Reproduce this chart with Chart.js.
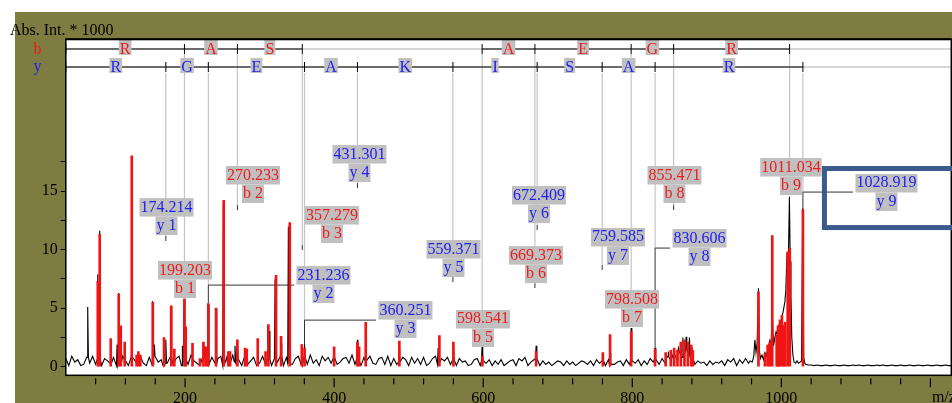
<!DOCTYPE html>
<html>
<head>
<meta charset="utf-8">
<script src="https://cdn.jsdelivr.net/npm/chart.js@4.4.1/dist/chart.umd.min.js"></script>
<style>
html,body{margin:0;padding:0;background:#ffffff;overflow:hidden;}
canvas{display:block;}
</style>
</head>
<body>
<canvas id="chart" width="952" height="403"></canvas>
<script>
// ---------------- data ----------------
const xTitle = 'm/z';
const yTitle = 'Abs. Int. * 1000';
const xMin = 40, xMax = 1228;
const yMin = -0.73, yMax = 27.95;

// profile (black) baseline noise, sampled every 4 m/z
const noiseStart = 40, noiseStep = 4;
const noiseLow = [
0.7,0.1,0.9,0.4,0.6,0.1,0.2,0.8,0.3,0.9,
0.2,0.6,0.1,0.7,0.5,0.3,0.8,0.1,0.2,0.9,
0.5,0.1,0.8,0.6,0.2,0.9,0.3,0.1,0.8,0.2,
0.9,0.4,0.6,0.1,0.3,0.8,0.2,0.7,0.9,0.1,
0.8,0.2,1.0,0.5,0.3,0.1,0.9,0.6,0.2,0.8,
0.3,0.7,0.9,0.1,0.8,0.2,1.0,0.4,0.7,0.1,
0.9,0.2,0.5,0.8,0.1,0.3,0.9,0.2,0.6,0.1,
0.7,0.4,0.9,0.1,0.8,0.3,0.2,0.7,0.9,0.2,
0.8,0.2,1.0,0.3,0.6,0.1,0.9,0.5,0.8,0.3,
0.9,0.2,0.4,0.7,0.8,0.3,1.0,0.2,0.7,0.1,
0.8,0.5,0.9,0.3,0.2,0.7,0.8,0.2,0.9,0.1,
0.7,0.2,0.4,0.8,0.6,0.1,0.8,0.3,0.7,0.2,
0.8,0.1,0.3,0.7,0.9,0.2,0.7,0.5,0.8,0.2,
0.6,0.1,0.7,0.4,0.5,0.1,0.2,0.6,0.7,0.1,
0.5,0.3,0.6,0.1,0.5,0.2,0.6,0.1,0.3,0.5,
0.6,0.1,0.7,0.5,0.8,0.1,0.4,0.6,0.7,0.1,
0.5,0.2,0.4,0.1,0.3,0.5,0.4,0.1,0.5,0.2,
0.4,0.1,0.3,0.5,0.4,0.2,0.5,0.1,0.6,0.3,
0.5,0.1,0.6,0.2,0.2,0.4,0.5,0.1,0.6,0.2,
0.5,0.3,0.6,0.1,0.5,0.2,0.7,0.4,0.6,0.2,
0.7,0.3,0.9,0.5,1.1,0.6,1.3,0.8,1.4,0.9,
0.8,0.2,0.5,0.3,0.4,0.1,0.5,0.2,0.4,0.3,
0.5,0.1,0.6,0.4,0.7,0.1,0.6,0.3,0.7,0.3
];
// profile around the precursor cluster [m/z, intensity]
const clusterProfile = [
[958,0.5],[961,0.4],[963,0.9],[964.5,2.3],[966,1.2],[967.5,2.0],[969.3,6.7],[970.5,1.4],
[972,0.7],[974,1.0],[976,0.6],[978,1.2],[980,0.9],[982,1.5],[984.5,2.2],[986,1.6],
[987.8,4.5],[989.5,1.8],[991,2.4],[993,3.0],[995,2.7],[997,3.6],[999,3.4],[1001,4.3],
[1003,4.9],[1004.8,5.6],[1006,6.5],[1007.6,9.7],[1009,7.5],[1010.8,14.5],[1011.9,9.0],
[1012.9,6.0],[1014,2.5],[1015.5,1.0],[1017,0.4],[1019,0.3],[1021,0.5],[1023,0.3],
[1025,0.4],[1027,0.5],[1028.7,13.5],[1030,0.8],[1031.5,0.3],[1033,0.2],[1036,0.15]
];
const noiseHighStart = 1040;
const noiseHigh = [
0.15,0.1,0.15,0.1,0.1,0.15,0.1,0.1,0.15,0.1,
0.1,0.15,0.1,0.1,0.15,0.1,0.15,0.1,0.1,0.15,
0.1,0.1,0.15,0.1,0.15,0.1,0.1,0.15,0.1,0.1,
0.15,0.1,0.1,0.15,0.1,0.1,0.15,0.1,0.1,0.15,
0.1,0.1,0.15,0.1,0.1,0.15,0.1,0.1
];
// profile peaks (black)
const profilePeakMz  = [69.4,82.9,85.5,100.3,108.8,111.0,113.7,128.5,137.0,156.6,158.8,171.4,174.2,180.8,196.0,198.7,225.0,231.2,241.6,251.4,258.0,267.0,270.2,311.0,313.0,320.8,328.8,338.6,356.6,360.3,431.3,442.4,487.5,539.5,560.0,598.5,671.0,760.5,770.2,798.5,830.6,848.0,856.0,862.0,867.8,872.2,876.7,880.0];
const profilePeakInt = [5.1, 7.9, 11.6,2.3,  1.9,  6.3,  3.4,  17.9, 1.1,  5.6,  1.9,  2.4,  2.3,  5.1,  1.8,  5.7,  2.1,  5.3,  4.9,  13.9, 1.2,  1.8,  2.2,  3.5,  3.05, 7.5,  2.0,  11.95,1.9,  1.9,  2.3,  3.0,  1.4,  1.6,  2.0,  1.7,  1.8,  0.9,  1.2,  3.3,  1.6,  1.3,  1.5,  1.6,  2.5,  2.55, 2.5,  1.7];

// centroided peaks (red sticks)
const stickMz  = [82.9,85.5,100.3,111.0,113.7,119.0,128.5,135.0,137.4,140.0,156.7,171.8,181.6,185.6,199.2,200.9,210.0,220.0,224.6,227.8,231.2,241.6,251.9,258.1,260.4,270.2,280.5,282.8,297.5,308.0,311.8,322.1,328.8,340.5,356.6,360.3,400.0,431.2,433.5,442.4,487.5,541.2,560.0,599.0,671.0,760.5,770.2,798.5,830.6,844.8,851.7,856.2,860.6,865.1,870.0,874.5,879.0,881.2,969.3,978.0,981.6,984.7,987.8,993.7,995.5,997.0,998.2,1000.8,1003.0,1005.2,1008.5,1011.3,1028.9];
const stickInt = [7.3, 11.3,2.4,  6.2,  3.5,  2.1,  18.0, 1.0,  1.3,  1.0,  5.5,  2.5,  5.2,  1.5,  5.8,  3.4,  2.0,  0.7,  2.1,  1.7,  5.4,  5.0,  14.2, 1.3,  1.3,  2.3,  1.6,  1.5,  2.4,  1.3,  3.6,  7.8,  2.6,  12.3, 1.9,  1.6,  1.7,  2.1,  1.7,  3.8,  2.2,  2.65, 2.1,  0.9,  1.3,  1.2,  2.75, 3.0,  1.5,  1.2,  1.4,  1.6,  1.4,  2.1,  2.3,  2.1,  1.85, 1.4,  6.4,  1.1,  1.85, 2.1,  11.2, 2.7,  3.5,  3.1,  4.0,  4.4,   3.55,  3.8,   9.8,   10.1,  13.4];

// fragment ladders
const bIonMz = [199.203, 270.233, 357.279, 598.541, 669.373, 798.508, 855.471, 1011.034];
const bResidues = ['R','A','S',null,'A','E','G','R'];
const yIonMz = [174.214, 231.236, 360.251, 431.301, 559.371, 672.409, 759.585, 830.606, 1028.919];
const yResidues = ['R','G','E','A','K','I','S','A','R'];

// peak labels: [ion, m/z text, label centre m/z, label intensity, line end intensity, stub]
const fragLabels = [
 ['y 1','174.214', 175.1, 12.09, 11.16, true],
 ['b 1','199.203', 199.9, 6.72, 6.03, false],
 ['b 2','270.233', 291.1, 14.83, 13.80, true],
 ['b 3','357.279', 397.1, 11.41, 10.39, true],
 ['y 4','431.301', 434.0, 16.62, 15.68, true],
 ['y 5','559.371', 560.1, 8.51, 7.66, true],
 ['b 5','598.541', 599.7, 2.54, 1.77, false],
 ['y 6','672.409', 674.8, 13.12, 12.10, true],
 ['b 6','669.373', 670.8, 7.99, 7.14, true],
 ['y 7','759.585', 780.8, 9.54, 8.68, true],
 ['b 7','798.508', 799.6, 4.24, 3.47, false],
 ['b 8','855.471', 856.6, 14.83, 13.80, true],
 ['b 9','1011.034', 1012.9, 15.51, 14.83, false]
];
// labels with leader lines: [ion, m/z text, label centre m/z, label intensity, corner intensity, leader end m/z, peak intensity]
const leaderLabels = [
 ['y 2','231.236', 385.7, 6.29, 6.97, 346.1, 5.4],
 ['y 3','360.251', 495.7, 3.30, 3.98, 456.2, 1.7],
 ['y 8','830.606', 890.2, 9.45, 10.13, 850.6, 1.5],
 ['y 9','1028.919', 1141.0, 14.15, 14.91, 1096.1, 13.4]
];
// highlight frame (data units): left m/z, top and bottom intensity
const highlightBox = {mz: 1057.8, top: 16.92, bottom: 11.88};

// ---------------- styles ----------------
const FONT = '16px "Liberation Serif", "Times New Roman", serif';
const RED = '#f01a1a', BLUE = '#2020ee', BOXGRAY = '#c0c0c0', OLIVE = '#7f7c41';
const STICK = '#f01414';
const B_ROW = 49, Y_ROW = 67;

// ---------------- build datasets ----------------
const profile = [];
noiseLow.forEach((v, i) => profile.push({x: noiseStart + i * noiseStep, y: v}));
clusterProfile.forEach(p => profile.push({x: p[0], y: p[1]}));
noiseHigh.forEach((v, i) => profile.push({x: noiseHighStart + i * noiseStep, y: v}));
profilePeakMz.forEach((m, i) => {
  const base = noiseLow[Math.min(noiseLow.length - 1, Math.round((m - noiseStart) / noiseStep))];
  profile.push({x: m - 0.9, y: base}, {x: m, y: profilePeakInt[i]}, {x: m + 0.9, y: base});
});
profile.sort((a, b) => a.x - b.x);
const sticks = stickMz.map((m, i) => ({x: m, y: stickInt[i]}));

function px(chart, m) { return chart.scales.x.getPixelForValue(m); }
function py(chart, v) { return chart.scales.y.getPixelForValue(v); }
function vline(ctx, x, y0, y1) { ctx.beginPath(); ctx.moveTo(x, y0); ctx.lineTo(x, y1); ctx.stroke(); }

function drawLadder(chart, ions, residues, rowY, color) {
  const {ctx, chartArea: a} = chart;
  let prev = a.left;
  ctx.lineWidth = 1.6;
  ions.forEach((m, i) => {
    const x = px(chart, m);
    ctx.strokeStyle = residues[i] === null ? '#c8c8c8' : '#3a3a3a';
    ctx.beginPath(); ctx.moveTo(prev, rowY); ctx.lineTo(x, rowY); ctx.stroke();
    prev = x;
  });
  ctx.strokeStyle = '#c8c8c8';
  ctx.beginPath(); ctx.moveTo(prev, rowY); ctx.lineTo(a.right, rowY); ctx.stroke();
  ctx.strokeStyle = '#000'; ctx.lineWidth = 1;
  [a.left].concat(ions.map(m => px(chart, m))).forEach(x => vline(ctx, x, rowY - 5, rowY + 5));
  ctx.font = FONT; ctx.textAlign = 'center'; ctx.textBaseline = 'alphabetic';
  prev = a.left;
  ions.forEach((m, i) => {
    const x = px(chart, m);
    const r = residues[i];
    if (r) {
      const cx = (prev + x) / 2, w = ctx.measureText(r).width + 2;
      ctx.fillStyle = BOXGRAY; ctx.fillRect(cx - w / 2, rowY - 9, w, 15);
      ctx.fillStyle = color; ctx.fillText(r, cx, rowY + 5);
    }
    prev = x;
  });
}

function drawLabel(chart, lines, color, cm, ci) {
  const {ctx} = chart;
  const cx = px(chart, cm);
  const ionB = py(chart, ci) + 5;
  ctx.font = FONT; ctx.textAlign = 'center'; ctx.textBaseline = 'alphabetic';
  lines.forEach((t, i) => {
    const b = ionB - (lines.length - 1 - i) * 18.5;
    const w = ctx.measureText(t).width + 2;
    ctx.fillStyle = BOXGRAY; ctx.fillRect(cx - w / 2, b - 13.5, w, 18.5);
    ctx.fillStyle = color; ctx.fillText(t, cx, b);
  });
}

const decor = {
  id: 'decor',
  beforeDraw(chart) {
    const {ctx, chartArea: a, width, height} = chart;
    ctx.save();
    ctx.fillStyle = '#fff'; ctx.fillRect(0, 0, width, height);
    ctx.fillStyle = OLIVE; ctx.fillRect(15, 12, width - 15, height - 12);
    ctx.fillStyle = '#fff'; ctx.fillRect(a.left, a.top, a.right - a.left, a.bottom - a.top);
    ctx.restore();
  },
  beforeDatasetsDraw(chart) {
    const {ctx, chartArea: a} = chart;
    ctx.save();
    ctx.beginPath(); ctx.rect(a.left, a.top, a.right - a.left, a.bottom - a.top); ctx.clip();
    ctx.lineWidth = 1.2; ctx.strokeStyle = '#c4c4c4';
    fragLabels.forEach(f => {
      const x = px(chart, parseFloat(f[1]));
      const start = f[0][0] === 'b' ? B_ROW + 5 : Y_ROW + 6;
      vline(ctx, x, start, py(chart, f[4]));
    });
    leaderLabels.forEach(f => {
      const x = px(chart, parseFloat(f[1]));
      vline(ctx, x, Y_ROW + 6, py(chart, f[4]));
    });
    ctx.strokeStyle = '#333'; ctx.lineWidth = 1;
    fragLabels.forEach(f => {
      if (f[5]) { const x = px(chart, parseFloat(f[1])), y = py(chart, f[4]); vline(ctx, x, y, y + 5); }
    });
    leaderLabels.forEach(f => {
      const x = px(chart, parseFloat(f[1])), yc = py(chart, f[4]), yp = py(chart, f[6]), xe = px(chart, f[5]);
      ctx.beginPath(); ctx.moveTo(x, yp); ctx.lineTo(x, yc); ctx.lineTo(xe, yc); ctx.stroke();
    });
    drawLadder(chart, bIonMz, bResidues, B_ROW, RED);
    drawLadder(chart, yIonMz, yResidues, Y_ROW, BLUE);
    ctx.restore();
  },
  afterDatasetsDraw(chart) {
    const {ctx, chartArea: a} = chart;
    ctx.save();
    fragLabels.forEach(f => drawLabel(chart, [f[1], f[0]], f[0][0] === 'b' ? RED : BLUE, f[2], f[3]));
    leaderLabels.forEach(f => drawLabel(chart, [f[1], f[0]], BLUE, f[2], f[3]));
    // plot frame
    ctx.strokeStyle = '#000'; ctx.lineWidth = 1.5;
    ctx.strokeRect(a.left, a.top, a.right - a.left, a.bottom - a.top);
    ctx.lineWidth = 2; ctx.beginPath(); ctx.moveTo(a.left, a.top); ctx.lineTo(a.right, a.top); ctx.stroke();
    // highlight frame
    ctx.strokeStyle = '#3b5b8b'; ctx.lineWidth = 5;
    const bx = px(chart, highlightBox.mz), bt = py(chart, highlightBox.top), bb = py(chart, highlightBox.bottom);
    ctx.strokeRect(bx, bt, chart.width + 20 - bx, bb - bt);
    ctx.restore();
  },
  afterDraw(chart) {
    const {ctx, chartArea: a} = chart;
    const xs = chart.scales.x;
    ctx.save();
    ctx.strokeStyle = '#000'; ctx.lineWidth = 1.2;
    xs.ticks.forEach(t => {
      const x = xs.getPixelForValue(t.value);
      const major = Math.abs(t.value % 200) < 1e-6;
      vline(ctx, x, a.bottom + 3, a.bottom + (major ? 12 : 9));
    });
    ctx.font = FONT; ctx.fillStyle = '#000'; ctx.textBaseline = 'alphabetic';
    ctx.textAlign = 'left';
    ctx.fillText(xTitle, xs.getPixelForValue(1200) + 1.5, 401.5);
    ctx.fillText(yTitle, 10, 35);
    ctx.textAlign = 'center';
    ctx.fillStyle = RED; ctx.fillText('b', 37.5, B_ROW + 5);
    ctx.fillStyle = BLUE; ctx.fillText('y', 37.5, Y_ROW + 4);
    ctx.restore();
  }
};

new Chart(document.getElementById('chart'), {
  type: 'bar',
  data: {
    datasets: [
      {type: 'bar', label: 'matched peaks', data: sticks, backgroundColor: STICK, borderWidth: 0, barThickness: 2, order: 0},
      {type: 'line', label: 'profile', data: profile, borderColor: '#000', borderWidth: 1.1, pointRadius: 0, tension: 0, fill: false, order: 1}
    ]
  },
  options: {
    responsive: false, animation: false, devicePixelRatio: 1, events: [],
    layout: {padding: {left: 0, right: 0.7, top: 39.3, bottom: 0}},
    plugins: {legend: {display: false}, tooltip: {enabled: false}, title: {display: false}},
    scales: {
      x: {
        type: 'linear', min: xMin, max: xMax, offset: false,
        grid: {display: false}, border: {display: false},
        afterBuildTicks: s => { s.ticks = s.ticks.filter(t => t.value >= 80 && t.value <= 1200 && Math.abs(t.value % 40) < 1e-6); },
        ticks: {stepSize: 40, includeBounds: false, autoSkip: false, maxRotation: 0, minRotation: 0, padding: 6, color: '#000',
          font: {family: '"Liberation Serif", "Times New Roman", serif', size: 16},
          callback: v => (Math.abs(v % 200) < 1e-6 && v < 1200) ? String(v) : ''},
        afterFit: s => { s.height = 27.7; }
      },
      y: {
        type: 'linear', min: yMin, max: yMax,
        grid: {display: true, drawOnChartArea: false, drawTicks: true, tickLength: 5, color: '#000', lineWidth: 1},
        border: {display: false},
        afterBuildTicks: s => { s.ticks = s.ticks.filter(t => t.value >= 0 && t.value <= 17.5 && Math.abs(t.value % 2.5) < 1e-6); },
        ticks: {stepSize: 2.5, includeBounds: false, autoSkip: false, padding: 3, color: '#000',
          font: {family: '"Liberation Serif", "Times New Roman", serif', size: 16},
          callback: v => (Math.abs(v % 5) < 1e-6) ? String(v) : ''},
        afterFit: s => { s.width = 65.8; }
      }
    }
  },
  plugins: [decor]
});
</script>
</body>
</html>
